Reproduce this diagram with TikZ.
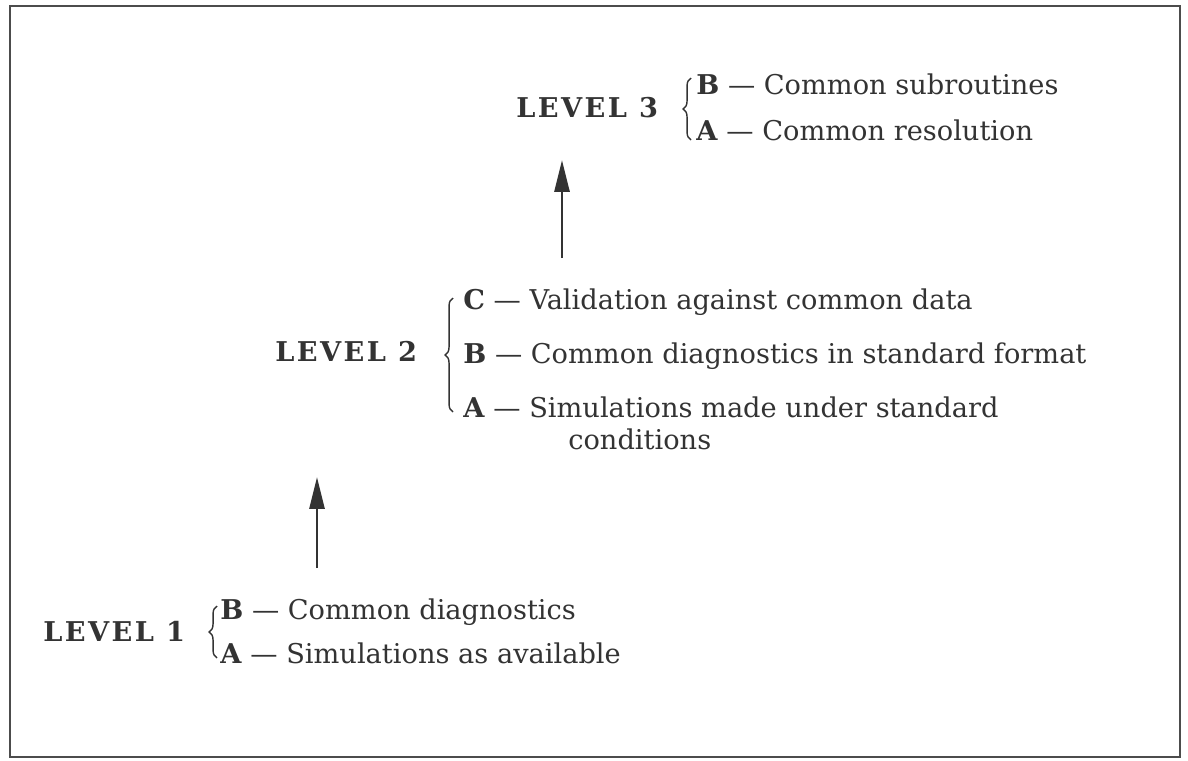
\documentclass[tikz,border=0pt]{standalone}
\usepackage{fontspec}
\setmainfont{DejaVu Serif}
\usetikzlibrary{arrows.meta,decorations.pathreplacing}
\definecolor{tinta}{HTML}{333333}

\begin{document}
\begin{tikzpicture}[
    x=0.02cm, y=-0.02cm,
    levelname/.style={anchor=base west, inner sep=0pt, font=\fontsize{15.5}{18}\selectfont\bfseries\addfontfeatures{LetterSpace=9}, text=tinta},
    entry/.style={anchor=base west, inner sep=0pt, align=left, font=\fontsize{15.5}{18}\selectfont, text=tinta},
    curly/.style={decorate, decoration={brace, amplitude=4.5pt}, line width=0.8pt, draw=tinta},
    uparrow/.style={-{Triangle[length=0.64cm, width=0.3cm]}, line width=1.7pt, draw=tinta},
    frame/.style={draw=black!70, line width=1.4pt}
  ]
    \useasboundingbox (0,0) rectangle (1188,761);
    \draw[frame] (10,6) rectangle (1180,757);

    % level 3
    \node[levelname] (lvlthree) at (516,117) {LEVEL\ 3};
    \node[entry] (lvlthreeb) at (696,94) {\textbf{B} — Common subroutines};
    \node[entry] (lvlthreea) at (696,140) {\textbf{A} — Common resolution};
    \draw[curly] (691,140) -- (691,78);

    % level 2
    \node[levelname] (lvltwo) at (275,361) {LEVEL\ 2};
    \node[entry] (lvltwoc) at (463,309) {\textbf{C} — Validation against common data};
    \node[entry] (lvltwob) at (463,363) {\textbf{B} — Common diagnostics in standard format};
    \node[entry] (lvltwoa) at (463,449) {\textbf{A} — Simulations made under standard\\\hspace*{2.1cm}conditions};
    \draw[curly] (453,412) -- (453,298);

    % level 1
    \node[levelname] (lvlone) at (43,641) {LEVEL\ 1};
    \node[entry] (lvloneb) at (220,619) {\textbf{B} — Common diagnostics};
    \node[entry] (lvlonea) at (220,663) {\textbf{A} — Simulations as available};
    \draw[curly] (217,658) -- (217,606);

    % arrows between levels
    \coordinate (uppertail) at (562,258);
    \coordinate (uppertip) at (562,160);
    \coordinate (lowertail) at (317,568);
    \coordinate (lowertip) at (317,477);
    \draw[uparrow] (uppertail) -- (uppertip);
    \draw[uparrow] (lowertail) -- (lowertip);
\end{tikzpicture}
\end{document}
